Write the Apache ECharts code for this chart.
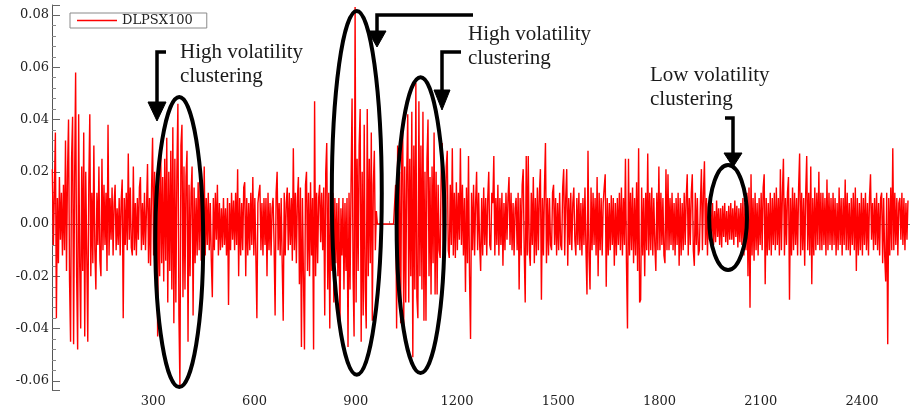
<!DOCTYPE html>
<html><head><meta charset="utf-8">
<script src="https://cdn.jsdelivr.net/npm/echarts@6/dist/echarts.min.js"></script>
<style>html,body{margin:0;padding:0;background:#fff}#c{width:910px;height:410px}</style>
</head><body><div id="c"></div>
<script>
// ---- data ----
const seriesName = 'DLPSX100';
const obsStart = 1;      // first observation number
const obsStep = 3;       // observation spacing of the sampled values
const dlpsx100 = [
 .021,-.008,.012,.035,-.036,.010,-.015,.018,-.006,.012,
 -.012,.015,-.010,.032,-.018,.020,.040,-.022,-.045,.025,
 .041,-.046,.018,.058,-.020,-.048,.042,-.015,-.040,.022,
 -.018,.035,-.043,.020,-.012,-.045,.015,.042,-.020,.012,
 -.015,.030,-.010,-.025,.012,-.008,.022,-.014,-.020,.025,
 -.010,.015,-.008,.012,-.018,.038,-.012,.010,-.006,.014,
 -.012,.008,.015,-.010,.006,-.008,.010,-.012,.009,.017,
 -.036,.010,-.008,.012,-.010,.027,-.006,.014,-.009,-.012,
 .022,-.010,.008,-.012,.010,-.006,.014,.018,-.010,.008,
 -.008,.012,-.010,.006,.023,-.015,.010,-.016,.014,.033,
 -.012,.020,-.018,.015,-.043,.022,-.020,.030,-.015,.018,
 -.022,.025,-.014,.033,-.030,.020,-.018,.028,-.025,.037,
 -.038,.025,-.030,.020,.046,-.035,-.062,.030,.038,-.028,
 .022,-.025,.018,.028,-.045,.015,-.020,.012,.022,-.035,
 .014,-.015,.010,-.012,.016,-.010,.020,-.014,.012,-.008,
 .022,-.012,.010,-.008,.012,-.010,.008,-.014,-.028,.010,
 -.010,.012,-.006,.015,-.012,.008,-.010,.006,-.009,.010,
 -.008,.006,-.012,.010,-.031,.008,-.010,.012,-.006,.009,
 -.010,.012,-.008,.021,-.020,.010,-.012,.008,-.010,.014,
 .016,-.020,.010,-.012,.008,-.010,.012,-.008,.018,-.012,
 .010,-.012,-.036,.008,.012,.015,-.010,.008,-.012,.010,
 -.008,.010,-.020,.012,-.010,.008,-.012,.006,.010,-.008,
 -.035,.012,.020,-.010,.008,-.012,.010,-.015,-.037,.012,
 -.012,.008,.014,-.010,.012,-.008,.010,-.014,.029,-.010,
 .012,-.015,.010,.018,-.023,.014,-.047,.010,-.020,-.048,
 .015,.020,-.018,.012,-.020,.016,-.012,.010,-.048,.047,
 -.020,.012,-.015,.010,.015,-.007,.012,-.010,.014,-.035,
 .020,.031,-.025,.012,-.040,.010,-.018,.012,-.030,.010,
 -.015,.008,-.020,.010,-.042,.006,-.012,.010,-.025,.008,
 -.018,.010,-.047,.012,-.025,.015,.048,-.020,-.043,.083,
 -.030,.025,-.018,.030,.044,-.045,.020,-.035,.038,-.025,
 -.040,.044,-.020,.025,-.015,.035,-.037,.015,.028,-.010,
 .005,0,0,0,0,0,0,0,0,0,
 0,0,0,0,0,0,0,0,0,.015,
 -.040,.030,-.025,.020,-.038,.025,.039,-.040,.022,-.030,
 .020,.042,-.030,.025,-.020,.043,-.051,.030,-.025,.054,
 -.028,-.036,.047,-.020,.030,-.025,.043,-.037,.020,-.037,
 .025,.040,-.020,.018,-.027,.022,-.015,.035,-.027,.020,
 -.027,.015,-.010,-.013,.020,.031,-.012,.018,-.010,.022,
 .028,-.010,-.013,.015,-.008,.029,-.012,.012,-.013,.016,
 -.010,.012,-.006,.029,-.008,.015,-.012,.010,-.026,.014,
 -.015,.026,-.020,-.044,.012,-.010,.015,-.012,.008,.020,
 -.010,.012,-.008,-.018,.010,-.012,.014,-.008,.010,-.012,
 .010,.020,-.008,-.010,.012,.008,.026,-.012,.010,-.008,
 .015,-.012,.010,-.008,.012,-.016,.008,-.010,.012,-.006,
 .010,.018,-.008,.012,-.010,.008,-.012,.006,.010,-.010,
 .012,-.025,.010,-.012,.015,.021,-.010,-.030,.026,-.012,
 .026,-.010,-.016,.012,-.008,.018,-.015,.010,-.012,.014,
 -.010,.012,.021,-.029,.010,-.012,.014,.031,-.015,.010,
 -.012,.010,-.008,-.010,.012,.015,-.008,.010,-.012,.008,
 -.010,.012,-.008,-.010,.014,.021,-.012,.010,.021,-.016,
 .010,-.008,.012,-.010,.008,.014,-.006,-.012,.010,-.008,
 .012,-.010,.008,-.012,.010,-.008,.014,-.010,-.027,.028,
 -.012,-.025,.014,-.010,.012,-.008,.010,-.012,.018,-.020,
 .012,-.010,.010,-.012,.008,.014,.019,-.024,.010,-.012,
 .008,-.010,.011,-.008,.010,-.016,.008,-.012,.010,-.008,
 .012,-.010,.014,-.012,.010,-.008,.025,-.015,-.040,.025,
 -.012,.012,-.010,.014,-.015,.010,-.012,.016,-.018,.029,
 -.030,-.029,.014,-.012,.010,-.020,.012,-.010,.027,-.012,
 .012,-.010,.014,-.012,.010,-.008,-.018,.012,-.010,.022,
 -.010,.012,-.008,.010,-.012,-.015,.021,-.010,.019,-.010,
 .010,-.008,.012,-.010,.008,-.012,.010,-.008,.012,-.016,
 .010,-.012,.008,-.010,.012,-.008,.010,.019,-.012,.010,
 -.008,.012,.019,-.010,-.016,.012,-.008,.010,-.012,-.010,
 .008,.021,-.010,.012,.024,-.008,.010,-.012,.008,-.006,
 .007,-.006,.008,-.008,.005,-.007,.009,-.005,.006,-.008,
 .006,-.009,.007,-.005,.008,-.007,.005,-.008,.007,-.006,
 .008,-.006,.006,-.008,.009,-.005,.007,-.009,.006,-.007,
 .008,-.008,.010,-.012,.008,-.010,.012,-.020,.014,-.032,
 .019,-.012,.010,-.014,.012,-.010,.008,-.012,.010,-.008,
 .012,-.010,.014,.019,-.023,.010,-.012,.008,-.010,.012,
 -.012,.010,-.008,.012,-.010,.014,-.008,.010,-.012,.021,
 -.010,.012,.025,-.012,.010,-.008,.012,.018,-.029,.010,
 -.012,.014,-.010,.012,-.008,.010,-.012,.014,.027,-.012,
 .012,-.010,.010,-.016,.012,.026,-.010,.012,-.012,.022,
 -.023,.010,-.012,.014,-.010,.012,-.008,.020,-.010,.012,
 -.010,.012,-.008,.010,-.012,.017,-.010,.012,-.008,.010,
 -.010,.012,-.008,.010,-.012,.008,-.010,.014,-.008,.010,
 -.012,.010,-.008,.017,-.010,.012,-.010,.008,-.012,.010,
 -.008,.012,-.010,.014,-.018,.010,-.012,.008,-.010,.012,
 -.012,.010,-.008,.012,-.010,.008,-.012,.010,.019,-.006,
 .008,-.010,.010,-.008,.012,-.010,.008,-.012,.010,.012,
 -.015,.010,-.012,-.022,.012,-.046,.010,-.012,.014,-.010,
 .029,-.010,.012,-.008,.010,-.012,.008,.010,-.006,.012,
 -.008,.010,-.010,.008,-.006,.009
];
const xRange = [0, 2542];
const xTickStep = 300;
const yRange = [-0.0635, 0.0838];

// annotation ellipses, in data units: [centre obs, centre value, half-width obs, half-height value]
const clusterEllipses = [
  [377, -0.0069, 71, 0.0555],
  [903, 0.0119, 74, 0.0696],
  [1092, -0.0004, 71, 0.0566],
  [2003, 0.0025, 56, 0.0201]
];
const annotationTexts = ['High volatility\nclustering', 'High volatility\nclustering', 'Low volatility\nclustering'];

// ---- chart ----
const chart = echarts.init(document.getElementById('c'), null, {renderer: 'canvas'});
const axisFont = 'DejaVu Serif';
const option = {
  animation: false,
  backgroundColor: '#fff',
  grid: {left: 52, right: 0, top: 5, bottom: 20, containLabel: false},
  legend: {
    data: [{name: seriesName, icon: 'rect'}], left: 70, top: 13, padding: [1, 14, 1, 7],
    itemWidth: 40, itemHeight: 1.5, itemGap: 5,
    borderColor: '#8a8a8a', borderWidth: 1,
    textStyle: {fontFamily: axisFont, fontSize: 13, color: '#222', lineHeight: 13}
  },
  xAxis: {
    type: 'value', min: xRange[0], max: xRange[1], interval: xTickStep,
    axisLine: {lineStyle: {color: '#777', width: 1}},
    axisTick: {inside: true, length: 4, lineStyle: {color: '#777'}},
    minorTick: {show: true, splitNumber: 3, length: 3, lineStyle: {color: '#999'}},
    splitLine: {show: false},
    axisLabel: {showMinLabel: false, showMaxLabel: false, margin: 5,
      fontFamily: axisFont, fontSize: 13, color: '#222',
      formatter: v => String(v)}
  },
  yAxis: {
    type: 'value', min: yRange[0], max: yRange[1], splitNumber: 7,
    axisLine: {show: true, lineStyle: {color: '#555', width: 1}},
    axisTick: {show: true, inside: true, length: 8, lineStyle: {color: '#666'}},
    minorTick: {show: true, splitNumber: 5, length: 4, lineStyle: {color: '#888'}},
    splitLine: {show: false},
    axisLabel: {showMinLabel: false, showMaxLabel: false, margin: 3,
      fontFamily: axisFont, fontSize: 13, color: '#222',
      formatter: v => v.toFixed(2)}
  },
  series: [{
    name: seriesName, type: 'line', symbol: 'none', sampling: null,
    lineStyle: {color: '#ff0000', width: 1.4}, itemStyle: {color: '#ff0000'},
    data: dlpsx100.map((v, i) => [obsStart + i * obsStep, v])
  }]
};
chart.setOption(option);

// ---- annotations ----
const px = p => chart.convertToPixel({gridIndex: 0}, p);
const graphics = [];
clusterEllipses.forEach(e => {
  const c = px([e[0], e[1]]);
  const r = px([e[0] + e[2], e[1] + e[3]]);
  graphics.push({type: 'ellipse', z: 100,
    shape: {cx: c[0], cy: c[1], rx: Math.abs(r[0] - c[0]), ry: Math.abs(c[1] - r[1])},
    style: {fill: null, stroke: '#000', lineWidth: 4}});
});
const arrows = [
  {line: [[166, 52], [157, 52], [157, 104]], head: [[148, 102], [166, 102], [157, 121]]},
  {line: [[473, 15], [377, 15], [377, 33]], head: [[368, 31], [386, 31], [377, 47]]},
  {line: [[461, 52], [442, 52], [442, 92]], head: [[434, 90], [450, 90], [442, 110]]},
  {line: [[725, 118], [733, 118], [733, 155]], head: [[724, 153], [742, 153], [733, 167]]}
];
arrows.forEach(a => {
  graphics.push({type: 'polyline', z: 100, shape: {points: a.line},
    style: {stroke: '#000', lineWidth: 3.5, fill: null}});
  graphics.push({type: 'polygon', z: 100, shape: {points: a.head},
    style: {fill: '#000', stroke: '#000', lineWidth: 1}});
});
const textPos = [[180, 40], [468, 22], [650, 63]];
annotationTexts.forEach((t, i) => {
  graphics.push({type: 'text', z: 100, x: textPos[i][0], y: textPos[i][1],
    style: {text: t, font: '21px "Liberation Serif"', fill: '#1a1a1a', lineHeight: 24,
      verticalAlign: 'top', align: 'left'}});
});
chart.setOption({graphic: {elements: graphics}});
</script>
</body></html>
